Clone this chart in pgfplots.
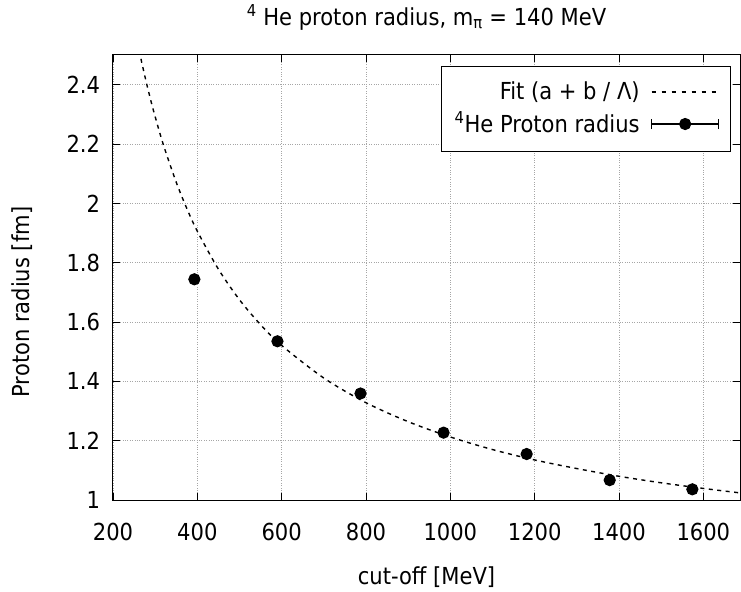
\documentclass[border=0pt]{standalone}
\usepackage{fontspec}
\setmainfont{DejaVu Sans Condensed}
\usepackage{pgfplots}
\pgfplotsset{compat=1.18}
\begin{document}
\fontsize{23.5}{27}\selectfont
\begin{tikzpicture}[x=1bp,y=1bp]
\begin{axis}[name=ax, at={(0,0)}, anchor=south west,
  scale only axis, width=627bp, height=445bp,
  xmin=200, xmax=1687, ymin=1, ymax=2.5,
  xtick={200,400,600,800,1000,1200,1400,1600},
  ytick={1,1.2,1.4,1.6,1.8,2,2.2,2.4},
  /pgf/number format/assume math mode=true,
  /pgf/number format/1000 sep={},
  grid=major,
  major grid style={dotted, black!35, line width=0.6bp},
  tick align=inside, major tick length=7bp,
  tick style={black, line width=0.8bp},
  axis line style={line width=1bp},
  xticklabel style={yshift=-15bp},
  yticklabel style={xshift=-5bp},
  title={\textsuperscript{4} He proton radius, m\textsubscript{π} = 140 MeV},
  title style={at={(axis description cs:0.5,1.072)}, anchor=center},
  xlabel={cut-off [MeV]},
  xlabel style={at={(axis description cs:0.5,-0.173)}, anchor=center},
  ylabel={Proton radius [fm]},
  ylabel style={at={(axis description cs:-0.1451,0.445)}, anchor=center},
  legend plot pos=right,
  legend cell align=right,
  legend style={at={(axis description cs:0.9856,0.9753)}, anchor=north east,
    draw=black, line width=1bp, inner xsep=11bp, inner ysep=13bp,
    row sep=5bp, nodes={inner xsep=2bp, inner ysep=2bp}},
]
\addplot[black, line width=1.4bp, dash pattern=on 4bp off 4.5bp, smooth,
  legend image code/.code={
  \path[draw=none, fill=none] (0bp,-6bp) rectangle (77bp,6bp);
  \draw[black, line width=1.3bp, dash pattern=on 4bp off 6bp] (10bp,0bp) -- (77bp,0bp);}]
  coordinates {
(262,2.515) (266,2.489) (270,2.463) (280,2.402) (290,2.345) (300,2.292) (320,2.195)
(350,2.071) (375,1.983) (400,1.906) (450,1.778) (500,1.675) (550,1.591)
(600,1.521) (700,1.411) (800,1.328) (900,1.264) (1000,1.2125)
(1100,1.170) (1200,1.135) (1300,1.106) (1400,1.080) (1500,1.058)
(1600,1.039) (1687,1.024)
};
\addlegendentry{Fit (a + b / Λ)}
\addplot[black, only marks, mark=*, mark size=5.5bp, line width=1.2bp,
  legend image code/.code={
  \path[draw=none, fill=none] (0bp,-6bp) rectangle (77bp,6bp);
  \draw[black, line width=1.6bp] (10bp,0bp) -- (77bp,0bp);
  \draw[black, line width=1.6bp] (10bp,-5bp) -- (10bp,5bp);
  \draw[black, line width=1.6bp] (77bp,-5bp) -- (77bp,5bp);
  \fill[black] (43.5bp,0bp) circle (5.5bp);},
  error bars/.cd, y dir=both, y explicit,
  error bar style={line width=1.2bp}]
  coordinates {
(393,1.744) +- (0,0.003)
(590,1.535) +- (0,0.003)
(787,1.359) +- (0,0.003)
(984,1.227) +- (0,0.003)
(1181,1.155) +- (0,0.003)
(1378,1.067) +- (0,0.003)
(1574,1.036) +- (0,0.003)
};
\addlegendentry{\textsuperscript{4}He Proton radius}
\end{axis}
\pgfresetboundingbox
\path[use as bounding box] (ax.south west) ++(-113bp,-92bp) rectangle ++(741bp,592bp);
\end{tikzpicture}
\end{document}
